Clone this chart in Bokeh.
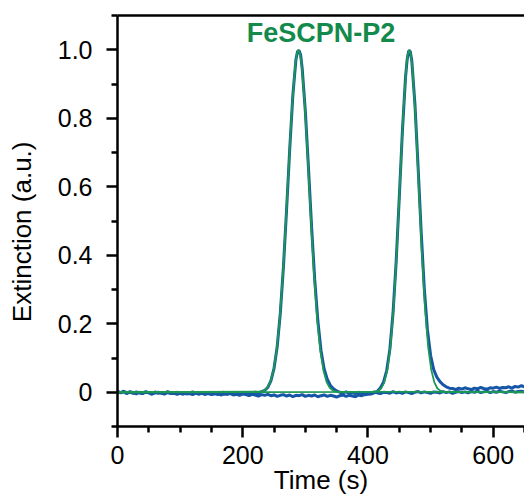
from bokeh.plotting import figure
from bokeh.models import FixedTicker, LinearAxis, Label, Range1d, CustomJSTickFormatter, ColumnDataSource
from bokeh.embed import file_html
from bokeh.resources import INLINE

# ---------------- data ----------------
x_ticks = [0, 200, 400, 600]
x_minor = [50, 100, 150, 250, 300, 350, 450, 500, 550, 650]
y_ticks = [0, 0.2, 0.4, 0.6, 0.8, 1.0]
y_minor = [-0.1, 0.1, 0.3, 0.5, 0.7, 0.9, 1.1]
title_text = "FeSCPN-P2"
x_label = "Time (s)"
y_label = "Extinction (a.u.)"

# fitted curves (green)
fit1_t = [0, 229, 234, 239, 244, 249, 254, 259, 264, 269, 274, 279, 284,
          286.5, 289, 291.5,
          294, 299, 304, 309, 314, 319, 324, 329, 334, 339, 344, 349, 650]
fit1_y = [0, 0.002, 0.005, 0.013, 0.030, 0.063, 0.120, 0.211, 0.339, 0.501, 0.678, 0.841, 0.958,
          0.989, 1.0, 0.989,
          0.958, 0.841, 0.678, 0.501, 0.339, 0.211, 0.120, 0.063, 0.030, 0.013, 0.005, 0.002, 0]
fit2_t = [0, 411, 416, 421, 426, 431, 436, 441, 446, 451, 456, 461,
          463.5, 466, 468.5,
          471, 476, 481, 486, 491, 496, 501, 506, 511, 516, 521, 650]
fit2_y = [0, 0.001, 0.004, 0.011, 0.029, 0.066, 0.135, 0.249, 0.411, 0.607, 0.801, 0.946,
          0.986, 1.0, 0.986,
          0.946, 0.801, 0.607, 0.411, 0.249, 0.135, 0.066, 0.029, 0.011, 0.004, 0.001, 0]

# measured trace A (first peak) - blue
a_base_t = list(range(0, 230, 5))
a_base_y = [0.003, -0.002, 0.001, -0.004, 0.002, -0.001, -0.005, 0.000, -0.003, 0.002,
            -0.002, -0.006, 0.001, -0.003, -0.001, -0.005, 0.002, -0.002, -0.004, 0.000,
            -0.003, -0.006, -0.001, -0.004, 0.001, -0.003, -0.005, -0.002, -0.006, -0.001,
            -0.004, -0.002, -0.007, -0.003, 0.000, -0.005, -0.002, -0.004, -0.001, -0.006,
            -0.003, -0.001, -0.005, -0.002, 0.000, -0.003]
a_peak_t = [230, 235, 240, 245, 250, 255, 260, 265, 270, 275, 280, 285,
            287.5, 290, 292.5,
            295, 300, 305, 310, 315, 320, 325, 330, 335, 340, 345, 350, 355]
a_peak_y = [0.002, 0.005, 0.014, 0.033, 0.070, 0.132, 0.230, 0.366, 0.532, 0.708, 0.866, 0.972,
            0.995, 0.998, 0.985,
            0.945, 0.820, 0.655, 0.482, 0.328, 0.208, 0.122, 0.068, 0.038, 0.020, 0.010, 0.004, 0.000]
a_after_t = list(range(360, 655, 5))
a_after_y = [-0.002, 0.001, -0.003, -0.001, -0.004, 0.000, -0.002, -0.005, -0.001, -0.003,
             0.001, -0.002, -0.004, 0.000, -0.001, -0.003, 0.002, -0.002, 0.000, -0.003,
             0.001, -0.001, -0.004, 0.000, 0.002, -0.002, 0.001, -0.001, -0.003, 0.001,
             0.000, -0.002, 0.002, -0.001, 0.001, -0.003, 0.000, 0.002, -0.001, 0.001,
             -0.002, 0.002, 0.000, 0.003, -0.001, 0.001, 0.003, -0.001, 0.002, 0.000,
             0.003, 0.001, -0.001, 0.002, 0.004, 0.000, 0.002, 0.003, 0.001]

# measured trace B (second peak) - blue
b_base_t = list(range(0, 405, 5))
b_base_y = [0.002, -0.001, 0.003, -0.002, 0.000, -0.003, 0.001, -0.002, -0.004, 0.000,
            -0.001, -0.004, -0.002, 0.000, -0.003, -0.005, -0.001, -0.004, -0.002, -0.006,
            -0.003, -0.001, -0.005, -0.004, -0.007, -0.002, -0.005, -0.003, -0.006, -0.004,
            -0.007, -0.005, -0.003, -0.008, -0.005, -0.006, -0.004, -0.008, -0.006, -0.009,
            -0.005, -0.007, -0.010, -0.006, -0.008, -0.011, -0.007, -0.009, -0.006, -0.010,
            -0.008, -0.012, -0.009, -0.007, -0.011, -0.008, -0.013, -0.009, -0.010, -0.007,
            -0.012, -0.009, -0.011, -0.008, -0.013, -0.010, -0.008, -0.012, -0.009, -0.011,
            -0.014, -0.010, -0.008, -0.012, -0.009, -0.011, -0.013, -0.008, -0.010, -0.007,
            -0.006]
b_peak_t = [405, 410, 415, 420, 425, 430, 435, 440, 445, 450, 455, 460,
            462.5, 465, 467.5,
            470, 475, 480, 485, 490, 495, 500, 505, 510, 515, 520, 525, 530]
b_peak_y = [-0.005, -0.002, 0.003, 0.013, 0.030, 0.064, 0.126, 0.230, 0.380, 0.568, 0.762, 0.920,
            0.970, 0.996, 0.996,
            0.968, 0.842, 0.660, 0.468, 0.302, 0.182, 0.108, 0.066, 0.044, 0.031, 0.022, 0.016, 0.012]
b_after_t = list(range(535, 655, 5))
b_after_y = [0.011, 0.008, 0.012, 0.009, 0.013, 0.010, 0.008, 0.012, 0.010, 0.014,
             0.011, 0.009, 0.013, 0.012, 0.015, 0.011, 0.014, 0.013, 0.016, 0.012,
             0.017, 0.015, 0.019, 0.016]

# ---------------- styles ----------------
BLUE = "#1656a6"
GREEN = "#1c9852"
TITLE_GREEN = "#138a4c"
FONT = "Liberation Sans"

p = figure(width=524, height=497,
           x_range=Range1d(0, 650), y_range=Range1d(-0.1, 1.1),
           output_backend="svg", toolbar_location=None,
           min_border_left=117, min_border_right=0,
           min_border_top=15, min_border_bottom=71)
p.outline_line_color = None
p.xgrid.visible = False
p.ygrid.visible = False
p.background_fill_color = "white"
p.border_fill_color = "white"

src_a = ColumnDataSource(dict(t=a_base_t + a_peak_t + a_after_t,
                              y=a_base_y + a_peak_y + a_after_y))
src_b = ColumnDataSource(dict(t=b_base_t + b_peak_t + b_after_t,
                              y=b_base_y + b_peak_y + b_after_y))
p.line("t", "y", source=src_b, line_color=BLUE, line_width=3)
p.line("t", "y", source=src_a, line_color=BLUE, line_width=3)
p.line(fit1_t, fit1_y, line_color=GREEN, line_width=1.8)
p.line(fit2_t, fit2_y, line_color=GREEN, line_width=1.8)

p.xaxis.ticker = FixedTicker(ticks=x_ticks, minor_ticks=x_minor)
p.yaxis.ticker = FixedTicker(ticks=y_ticks, minor_ticks=y_minor)
p.yaxis.formatter = CustomJSTickFormatter(code="return tick === 0 ? '0' : tick.toFixed(1);")
p.xaxis.axis_label = x_label
# trailing no-break spaces shift the centred label slightly downward, as in the reference
p.yaxis.axis_label = y_label + "\u00a0\u00a0\u00a0"

for ax in (p.xaxis[0], p.yaxis[0]):
    ax.axis_line_width = 2.5
    ax.axis_line_color = "black"
    ax.major_tick_line_width = 2.5
    ax.minor_tick_line_width = 2.5
    ax.major_tick_out = 11
    ax.major_tick_in = 0
    ax.minor_tick_out = 6
    ax.minor_tick_in = 0
    ax.major_label_text_font = FONT
    ax.major_label_text_font_size = "25px"
    ax.major_label_text_color = "black"
    ax.axis_label_text_font = FONT
    ax.axis_label_text_font_size = "26px"
    ax.axis_label_text_font_style = "normal"
    ax.axis_label_text_color = "black"

p.xaxis.major_label_standoff = 8
p.xaxis.axis_label_standoff = -2
p.yaxis.major_label_standoff = 14
p.yaxis.axis_label_standoff = 18

top = LinearAxis(ticker=FixedTicker(ticks=[300]), axis_line_width=2.5, axis_line_color="black",
                 major_tick_line_color=None, minor_tick_line_color=None,
                 major_tick_out=0, major_tick_in=0, minor_tick_out=0, minor_tick_in=0,
                 major_label_text_color=None, major_label_standoff=0,
                 major_label_text_font_size="1px")
p.add_layout(top, "above")

p.add_layout(Label(x=325, y=1.048, text=title_text, text_align="center",
                   text_baseline="alphabetic", text_font=FONT, text_font_size="27px",
                   text_font_style="bold", text_color=TITLE_GREEN))

open("out.html", "w").write(file_html(p, INLINE))
